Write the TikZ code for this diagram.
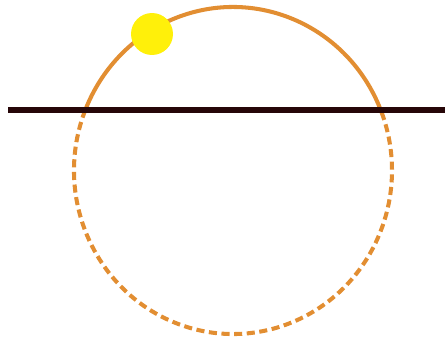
\documentclass[tikz,border=0pt]{standalone}
\usepackage{xcolor}
\usepackage{tikz}
\definecolor{orbitorange}{RGB}{226,142,50}
\definecolor{horizonbrown}{RGB}{38,6,8}
\definecolor{sunyellow}{RGB}{255,240,10}

\begin{document}
\begin{tikzpicture}[x=0.02cm, y=0.02cm,
    orbit/.style={draw=orbitorange, line width=2.3pt},
    hidden/.style={orbit, dash pattern=on 4.6pt off 2.6pt},
    horizon/.style={draw=horizonbrown, line width=3.6pt},
    sun/.style={circle, fill=sunyellow, inner sep=0pt, minimum size=0.84cm}]
    \useasboundingbox (0,0) rectangle (445,342);

    \coordinate (centre) at (233,171.5);
    % part of the path below the horizon
    \draw[hidden] (centre) ++(158.3:159 and 163.5) arc[start angle=158.3, end angle=381.7, x radius=159, y radius=163.5];
    % part above it
    \draw[orbit] (centre) ++(21.7:159 and 163.5) arc[start angle=21.7, end angle=158.3, x radius=159, y radius=163.5];

    \coordinate (west) at (8,232);
    \coordinate (east) at (445,232);
    \draw[horizon] (west) -- (east);

    \node[sun] (star) at (152,308) {};
\end{tikzpicture}
\end{document}
